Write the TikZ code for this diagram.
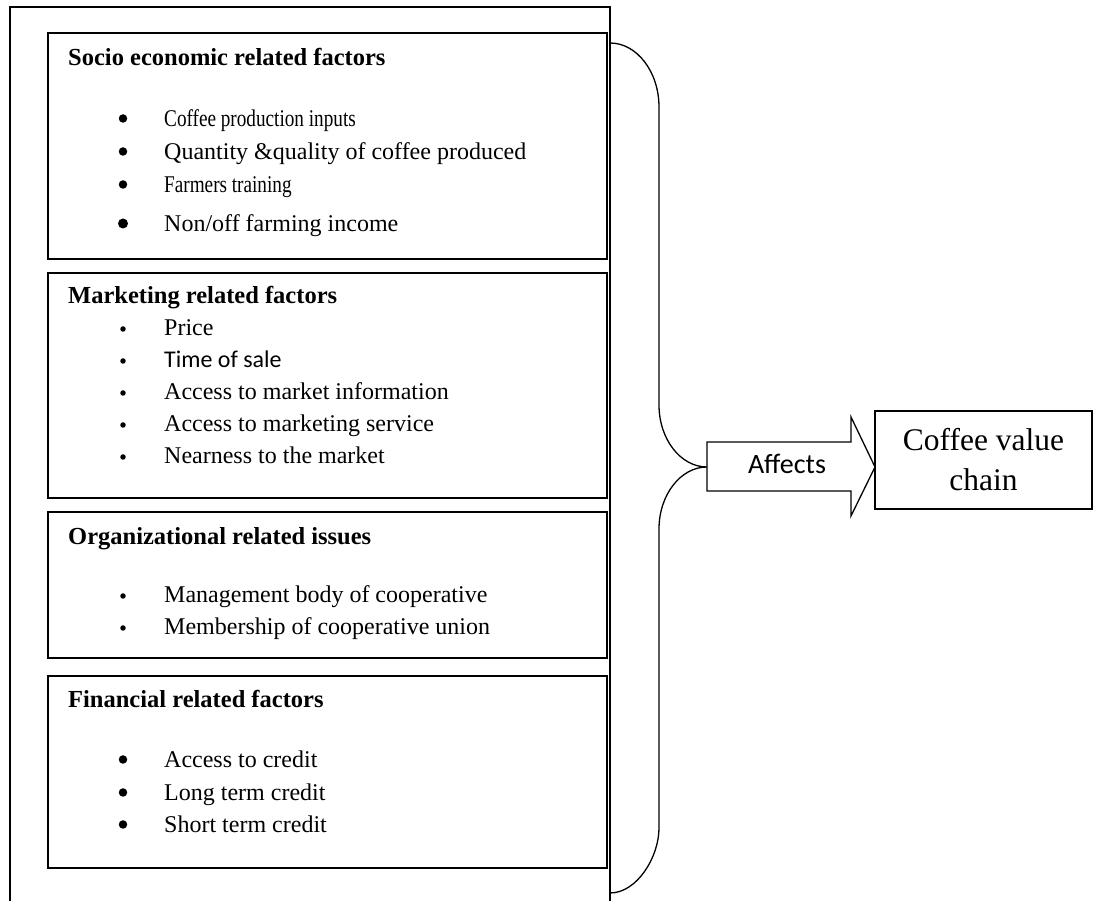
\documentclass[tikz,border=0pt]{standalone}
\usepackage{fontspec}
\setmainfont{Liberation Serif}
\newfontfamily\calibri{Carlito}
\newfontfamily\narrowserif[FakeStretch=0.8]{Liberation Serif}

\begin{document}
\begin{tikzpicture}[x=1pt, y=1pt,
    box/.style={draw, line width=1.3pt, minimum width=559, inner sep=0},
    head/.style={anchor=base west, inner sep=0, font=\bfseries\fontsize{24.5}{28}\selectfont},
    item/.style={anchor=base west, inner sep=0, font=\fontsize{24}{28}\selectfont},
    bul/.style={circle, fill, inner sep=0, minimum size=#1},
    bul/.default=8.5]
    \useasboundingbox (0,0) rectangle (1093,901);

    % Outer frame (open at the bottom)
    \draw[line width=1.3pt] (10,-5) -- (10,894) -- (610,894) -- (610,-5);

    % Socio economic related factors
    \node[box, minimum height=226] (soc) at (327.5,755) {};
    \node[head] (socT) at (68,835) {Socio economic related factors};
    \foreach \y/\s/\txt [count=\i] in {774/8.5/{\narrowserif Coffee production inputs},
        741/8.5/{Quantity \&quality of coffee produced}, 708/8.5/{\narrowserif Farmers training},
        669/10/{Non/off farming income}} {
        \node[bul=\s] (socB\i) at (123,\y+8.5) {};
        \node[item] (soc\i) at (164,\y) {\txt};
    }

    % Marketing related factors
    \node[box, minimum height=225] (mkt) at (327.5,515.5) {};
    \node[head] (mktT) at (68,597) {Marketing related factors};
    \foreach \y/\txt [count=\i] in {565/Price, 533/{\calibri Time of sale},
        501/Access to market information, 469/Access to marketing service,
        437/Nearness to the market} {
        \node[bul=5.5] (mktB\i) at (123,\y+7) {};
        \node[item] (mkt\i) at (164,\y) {\txt};
    }

    % Organizational related issues
    \node[box, minimum height=146] (org) at (327.5,316) {};
    \node[head] (orgT) at (68,356) {Organizational related issues};
    \foreach \y/\txt [count=\i] in {298/Management body of cooperative,
        266/Membership of cooperative union} {
        \node[bul=5.5] (orgB\i) at (123,\y+7) {};
        \node[item] (org\i) at (164,\y) {\txt};
    }

    % Financial related factors
    \node[box, minimum height=192] (fin) at (327.5,129) {};
    \node[head] (finT) at (68,193) {Financial related factors};
    \foreach \y/\txt [count=\i] in {133/Access to credit, 100/Long term credit,
        68/Short term credit} {
        \node[bul] (finB\i) at (123,\y+8.5) {};
        \node[item] (fin\i) at (164,\y) {\txt};
    }

    % Brace and block arrow
    \coordinate (tip) at (707,434);
    \draw[line width=1.3pt] (610,858) .. controls (637,858) and (659,829) .. (659,794)
        -- (659,496) .. controls (659,462) and (680.5,434) .. (tip)
        .. controls (680.5,434) and (659,406) .. (659,372)
        -- (659,73) .. controls (659,44) and (637,8) .. (610,8);
    \draw[line width=1.3pt] (tip) |- (851,459) -- (851,484) -- (875,434)
        -- (851,385) -- (851,410) -| (tip);
    \node[anchor=base, inner sep=0, font=\calibri\fontsize{28}{32}\selectfont] (aff) at (787,427) {Affects};

    % Result
    \node[draw, line width=1.3pt, minimum width=217, minimum height=98, align=center,
        font=\fontsize{31.5}{40}\selectfont] (cvc) at (983.5,441) {Coffee value\\chain};
\end{tikzpicture}
\end{document}
